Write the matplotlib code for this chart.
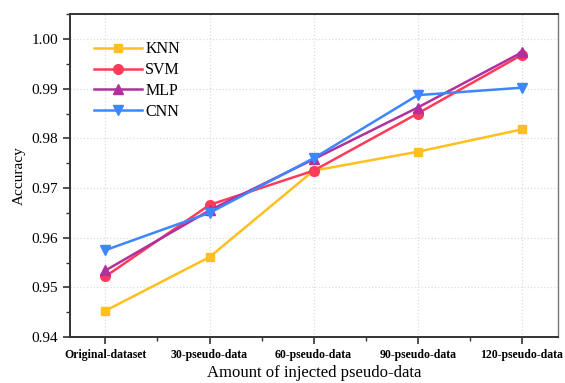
import matplotlib.pyplot as plt
from matplotlib.ticker import MultipleLocator, FixedLocator

plt.rcParams['font.family'] = ['Liberation Serif', 'DejaVu Serif']

categories = ['Original-dataset', '30-pseudo-data', '60-pseudo-data', '90-pseudo-data', '120-pseudo-data']
knn = [0.9453, 0.9561, 0.9735, 0.9773, 0.9818]
svm = [0.9522, 0.9666, 0.9735, 0.9850, 0.9968]
mlp = [0.9534, 0.9655, 0.9758, 0.9862, 0.9973]
cnn = [0.9575, 0.9650, 0.9760, 0.9887, 0.9902]

fig = plt.figure(figsize=(5.65, 3.83), dpi=100)
ax = fig.add_axes([0.124, 0.12, 0.864, 0.843])

x = list(range(len(categories)))
ax.plot(x, knn, '-s', color='#FFC01E', lw=1.8, ms=6, label='KNN')
ax.plot(x, svm, '-o', color='#FF3B5A', lw=1.8, ms=7, label='SVM')
ax.plot(x, mlp, '-^', color='#B2309E', lw=1.8, ms=7, label='MLP')
ax.plot(x, cnn, '-v', color='#3C87FF', lw=1.8, ms=7, label='CNN')

ax.set_xlim(-0.34, 4.35)
ax.set_ylim(0.94, 1.005)
ax.set_xticks(x)
ax.set_xticklabels(categories, fontweight='bold', fontsize=8.5)
ax.xaxis.set_minor_locator(FixedLocator([i + 0.5 for i in range(-1, 5)]))
ax.yaxis.set_minor_locator(MultipleLocator(0.005))
ax.set_yticks([0.94, 0.95, 0.96, 0.97, 0.98, 0.99, 1.00])
ax.set_yticklabels(['0.94', '0.95', '0.96', '0.97', '0.98', '0.99', '1.00'], fontsize=11)
ax.tick_params(which='major', direction='out', length=5, width=1.2, color='#333333')
ax.tick_params(which='minor', direction='out', length=3, width=1.0, color='#333333')
ax.tick_params(top=False, right=False)

ax.grid(True, which='major', linestyle=':', color='#DDDDDD', lw=0.9)

for side in ['left', 'bottom', 'top']:
    ax.spines[side].set_color('#333333')
    ax.spines[side].set_linewidth(1.4)
ax.spines['right'].set_color('#777777')
ax.spines['right'].set_linewidth(1.0)

ax.set_ylabel('Accuracy', fontsize=11)
ax.set_xlabel('Amount of injected pseudo-data', fontsize=12, labelpad=3)

ax.legend(loc='upper left', bbox_to_anchor=(0.02, 0.96), frameon=False, fontsize=11.5,
          handlelength=3.0, handletextpad=0.2, labelspacing=0.3)

fig.savefig('out.png', dpi=100)
